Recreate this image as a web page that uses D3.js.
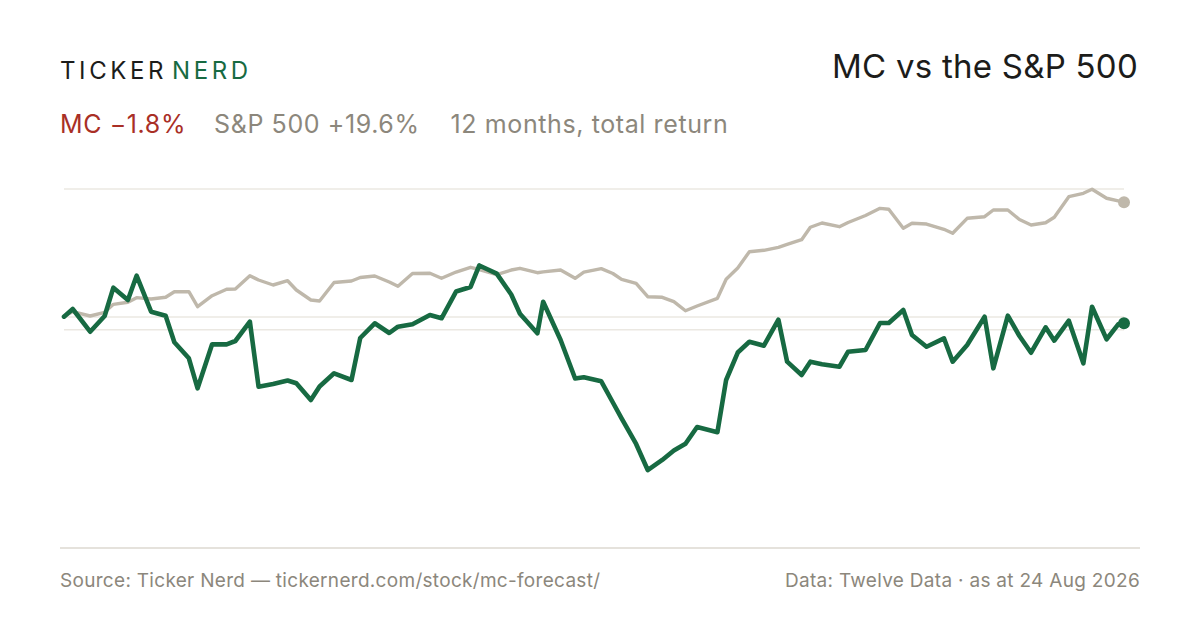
<!DOCTYPE html>
<html>
<head>
<meta charset="utf-8">
<script src="https://cdn.jsdelivr.net/npm/d3@7"></script>
<style>
  html, body { margin: 0; padding: 0; background: #ffffff; }
  svg { display: block; }
  text { font-family: Inter, "Noto Sans", sans-serif; }
</style>
</head>
<body>
<svg id="chart" width="1200" height="630"></svg>
<script>
// ---- data ----
const startDate = new Date(2025, 7, 24);
// calendar days since start for each sample
const days = [0,3,9,14,17,22,25,30,35,38,43,46,51,56,59,64,67,72,77,80,85,88,93,99,102,107,112,115,120,126,130,135,140,143,149,154,157,163,165,171,176,179,185,189,192,197,201,206,210,214,218,225,228,232,236,241,246,249,254,257,261,267,270,276,281,284,289,292,297,303,306,311,317,320,325,329,333,338,341,346,351,354,359,363,365];
// MC cumulative return, %
const mcValues = [0.05,1.25,-2.30,0.16,4.58,2.66,6.45,0.83,0.20,-3.95,-6.45,-11.14,-4.27,-4.27,-3.75,-0.73,-10.89,-10.47,-9.92,-10.36,-12.97,-10.86,-8.80,-9.84,-3.28,-0.98,-2.50,-1.52,-1.13,0.31,-0.20,3.98,4.69,8.05,6.77,3.52,0.52,-2.55,2.39,-3.59,-9.61,-9.41,-10.05,-13.36,-15.83,-19.84,-23.91,-22.34,-20.86,-19.80,-17.19,-18.00,-9.84,-5.55,-3.86,-4.48,-0.42,-6.98,-9.06,-6.98,-7.38,-7.77,-5.42,-5.16,-0.94,-0.94,1.09,-2.81,-4.64,-3.33,-6.98,-4.38,0.05,-8.02,0.20,-2.97,-5.58,-1.61,-3.70,-0.58,-7.23,1.61,-3.48,-1.14,-0.98];
// S&P 500 cumulative return, %
const spValues = [0.16,0.83,0.16,0.73,1.98,2.30,3.02,2.81,3.08,3.95,3.95,1.61,3.33,4.33,4.38,6.45,5.78,5.00,5.67,4.22,2.66,2.50,5.39,5.63,6.17,6.41,5.47,4.80,6.80,6.83,6.05,7.03,7.77,7.42,6.64,7.34,7.61,6.92,7.06,7.34,6.05,7.00,7.55,6.80,5.89,5.27,3.17,3.08,2.39,0.98,1.72,2.92,5.89,7.66,10.20,10.42,10.89,11.33,12.08,14.02,14.69,14.11,14.77,15.86,16.98,16.84,13.86,14.64,14.53,13.70,13.08,15.42,15.67,16.72,16.72,15.23,14.38,14.73,15.59,18.80,19.33,19.95,18.55,18.13,17.92];
const gridValues = [20, 0, -2];
const yDomain = [-33.28, 20];

const brandWords = ["TICKER", "NERD"];
const titleText = "MC vs the S&P 500";
const subtitleParts = [
  {text: "MC \u22121.8%", key: "mc"},
  {text: "S&P 500 +19.6%", key: "sp"},
  {text: "12 months, total return", key: "note"}
];
const sourceText = "Source: Ticker Nerd \u2014 tickernerd.com/stock/mc-forecast/";
const dataText = "Data: Twelve Data \u00b7 as at 24 Aug 2026";

// ---- styles ----
const C = {
  ink: "#1c1c1a", green: "#176a42", red: "#a92f26", muted: "#8c877c",
  sp: "#bfb8ab", grid: "#ebe8e2", rule: "#dcd8d0"
};

const svg = d3.select("#chart");
const W = 1200, H = 630;
const m = {left: 64, right: 76, top: 189, bottom: 100};

const dates = days.map(d => d3.timeDay.offset(startDate, d));
const x = d3.scaleTime()
  .domain([dates[0], dates[dates.length - 1]])
  .range([m.left, W - m.right]);
const y = d3.scaleLinear().domain(yDomain).range([H - m.bottom, m.top]);

// header
const brand = svg.append("text").attr("x", 60).attr("y", 79)
  .attr("font-size", 24).attr("letter-spacing", 3.6).attr("font-weight", 400);
brand.append("tspan").attr("fill", C.ink).text(brandWords[0]);
brand.append("tspan").attr("fill", C.green).attr("dx", 5).text(brandWords[1]);

svg.append("text").attr("x", 1138).attr("y", 78).attr("text-anchor", "end")
  .attr("font-size", 33).attr("letter-spacing", 0.25).attr("fill", C.ink).text(titleText);

const sub = svg.append("text").attr("x", 60).attr("y", 133)
  .attr("font-size", 25).attr("letter-spacing", 0.6);
const subColors = {mc: C.red, sp: C.muted, note: C.muted};
subtitleParts.forEach((p, i) => {
  sub.append("tspan").attr("dx", i === 0 ? 0 : (i === 1 ? 28 : 31))
    .attr("fill", subColors[p.key]).text(p.text);
});

// grid
svg.append("g").selectAll("line").data(gridValues).join("line")
  .attr("x1", m.left).attr("x2", W - m.right)
  .attr("y1", d => y(d)).attr("y2", d => y(d))
  .attr("stroke", C.grid).attr("stroke-width", 1.5);

// lines
const line = vals => d3.line()
  .x((d, i) => x(dates[i])).y(d => y(d))(vals);

svg.append("path").attr("d", line(spValues))
  .attr("fill", "none").attr("stroke", C.sp).attr("stroke-width", 3.4)
  .attr("stroke-linejoin", "round").attr("stroke-linecap", "round");
svg.append("path").attr("d", line(mcValues))
  .attr("fill", "none").attr("stroke", C.green).attr("stroke-width", 4.6)
  .attr("stroke-linejoin", "round").attr("stroke-linecap", "round");

const last = dates.length - 1;
svg.append("circle").attr("cx", x(dates[last])).attr("cy", y(spValues[last]))
  .attr("r", 6).attr("fill", C.sp);
svg.append("circle").attr("cx", x(dates[last])).attr("cy", y(mcValues[last]))
  .attr("r", 6).attr("fill", C.green);

// footer
svg.append("line").attr("x1", 60).attr("x2", 1140).attr("y1", 548).attr("y2", 548)
  .attr("stroke", C.rule).attr("stroke-width", 1.5);
svg.append("text").attr("x", 60).attr("y", 587).attr("font-size", 19)
  .attr("letter-spacing", 0.3).attr("fill", C.muted).text(sourceText);
svg.append("text").attr("x", 1140).attr("y", 587).attr("text-anchor", "end")
  .attr("font-size", 19).attr("letter-spacing", 0.3).attr("fill", C.muted).text(dataText);
</script>
</body>
</html>
